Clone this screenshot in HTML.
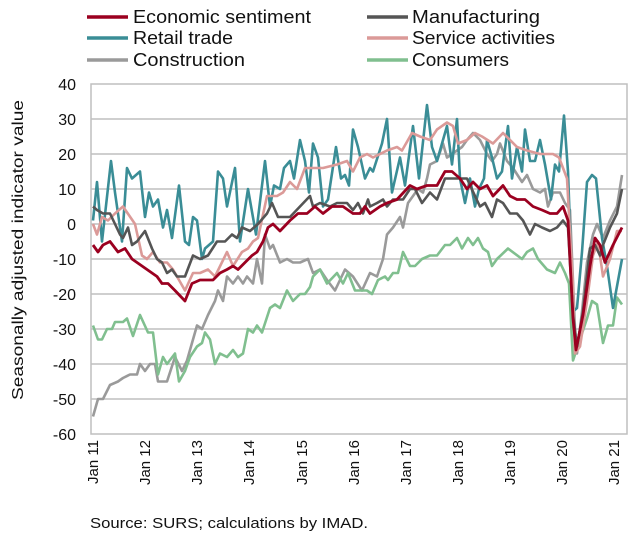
<!DOCTYPE html>
<html><head><meta charset="utf-8"><style>
html,body{margin:0;padding:0;background:#fff;}
svg{display:block;font-family:"Liberation Sans",sans-serif;}
</style></head><body>
<svg id="s" width="639" height="542" viewBox="0 0 639 542" xmlns="http://www.w3.org/2000/svg">
<g stroke="#bfbfbf" stroke-width="1.5">
<line x1="91" y1="119" x2="627" y2="119"/><line x1="91" y1="154" x2="627" y2="154"/>
<line x1="91" y1="189" x2="627" y2="189"/><line x1="91" y1="224" x2="627" y2="224"/>
<line x1="91" y1="259" x2="627" y2="259"/><line x1="91" y1="294" x2="627" y2="294"/>
<line x1="91" y1="329" x2="627" y2="329"/><line x1="91" y1="364" x2="627" y2="364"/>
<line x1="91" y1="399" x2="627" y2="399"/>
</g>
<rect x="91" y="84" width="536" height="350" fill="none" stroke="#bfbfbf" stroke-width="1.5"/>
<g font-size="16" text-anchor="end" fill="#111">
<text x="76" y="90">40</text><text x="76" y="125">30</text><text x="76" y="160">20</text>
<text x="76" y="195">10</text><text x="76" y="230">0</text><text x="76" y="265">-10</text>
<text x="76" y="300">-20</text><text x="76" y="335">-30</text><text x="76" y="370">-40</text>
<text x="76" y="405">-50</text><text x="76" y="440">-60</text>
</g>
<text transform="translate(23,250) rotate(-90)" font-size="16" text-anchor="middle" textLength="300" lengthAdjust="spacingAndGlyphs" fill="#111">Seasonally adjusted indicator value</text>
<g font-size="15" text-anchor="end" fill="#111">
<text transform="translate(98,440) rotate(-90)">Jan 11</text>
<text transform="translate(150,440) rotate(-90)">Jan 12</text>
<text transform="translate(202,440) rotate(-90)">Jan 13</text>
<text transform="translate(254,440) rotate(-90)">Jan 14</text>
<text transform="translate(307,440) rotate(-90)">Jan 15</text>
<text transform="translate(359,440) rotate(-90)">Jan 16</text>
<text transform="translate(411,440) rotate(-90)">Jan 17</text>
<text transform="translate(463,440) rotate(-90)">Jan 18</text>
<text transform="translate(515,440) rotate(-90)">Jan 19</text>
<text transform="translate(567,440) rotate(-90)">Jan 20</text>
<text transform="translate(619,440) rotate(-90)">Jan 21</text>
</g>
<text x="90" y="528" font-size="15" fill="#111" textLength="278" lengthAdjust="spacingAndGlyphs">Source: SURS; calculations by IMAD.</text>
<g stroke-width="3.5">
<line x1="87" y1="17" x2="128" y2="17" stroke="#9b0020"/>
<line x1="367" y1="17" x2="408" y2="17" stroke="#555"/>
<line x1="87" y1="38" x2="128" y2="38" stroke="#3a8d96"/>
<line x1="367" y1="38" x2="408" y2="38" stroke="#db9a98"/>
<line x1="87" y1="60" x2="128" y2="60" stroke="#9a9a9a"/>
<line x1="367" y1="60" x2="408" y2="60" stroke="#80bf8f"/>
</g>
<g font-size="18" fill="#111" lengthAdjust="spacingAndGlyphs">
<text x="133" y="23" textLength="178" lengthAdjust="spacingAndGlyphs">Economic sentiment</text>
<text x="412" y="23" textLength="128" lengthAdjust="spacingAndGlyphs">Manufacturing</text>
<text x="133" y="44" textLength="100" lengthAdjust="spacingAndGlyphs">Retail trade</text>
<text x="412" y="44" textLength="143" lengthAdjust="spacingAndGlyphs">Service activities</text>
<text x="133" y="66" textLength="112" lengthAdjust="spacingAndGlyphs">Construction</text>
<text x="412" y="66" textLength="97" lengthAdjust="spacingAndGlyphs">Consumers</text>
</g>
<g id="lines" fill="none" stroke-width="2.6" stroke-linejoin="round"></g>
</svg>
<script>
var D={
con:["#9a9a9a",[93,-55,98,-50,103,-50,110,-46,118,-45,123,-44,130,-43,137,-43,140,-40,145,-42,150,-40,155,-40,158,-45,167,-45,175,-38,182,-42,187,-39,197,-29,202,-30,208,-26,215,-22,218,-19,223,-22,227,-15,233,-17,238,-15,243,-17,247,-15,253,-17,257,-10,262,-17,265,-3,270,-7,273,-6,280,-11,287,-10,293,-11,300,-11,308,-10,313,-14,320,-13,327,-16,335,-19,345,-13,353,-15,362,-19,370,-14,377,-15,383,-10,387,-3,393,-1,400,2,403,-1,408,6,413,8,418,10,423,9,427,13,430,17,437,18,443,23,447,19,452,20,457,21,462,22,467,24,473,26,480,24,487,20,492,18,497,20,500,23,507,18,513,16,522,12,527,14,533,10,540,9,545,10,548,5,553,9,560,9,565,6,570,4,575,-30,577,-37,582,-25,587,-11,593,-3,597,0,603,-4,610,1,617,5,622,14]],
cons:["#80bf8f",[93,-29,98,-33,102,-33,107,-30,112,-30,115,-28,123,-28,127,-27,133,-32,140,-26,148,-31,153,-31,158,-43,163,-38,167,-40,175,-37,179,-45,185,-42,190,-38,197,-35,202,-34,205,-31,210,-33,215,-40,220,-37,227,-38,233,-36,238,-38,243,-37,248,-30,253,-31,257,-29,262,-31,270,-24,275,-23,280,-24,287,-19,293,-22,300,-20,305,-20,310,-18,313,-15,320,-13,327,-17,337,-14,343,-17,348,-14,355,-19,363,-19,367,-19,372,-20,378,-16,385,-15,388,-16,393,-14,398,-14,403,-8,410,-12,415,-12,422,-10,430,-9,437,-9,445,-6,450,-6,457,-4,462,-7,468,-4,473,-6,478,-4,483,-7,488,-8,492,-12,497,-10,508,-7,522,-10,527,-8,533,-7,538,-10,547,-13,555,-14,560,-11,565,-14,569,-17,573,-39,580,-33,587,-27,592,-22,597,-23,603,-34,608,-29,613,-29,617,-21,622,-23]],
ret:["#3a8d96",[93,1,97,12,102,-5,111,18,115,9,122,-5,127,16,132,13,140,15,145,2,149,9,153,5,158,7,163,-1,167,4,172,-4,179,11,185,-5,189,-6,193,2,197,1,202,-10,205,-7,213,-5,218,15,223,13,227,5,235,16,240,-5,248,10,256,-3,265,18,270,5,274,11,280,10,284,16,290,18,294,13,300,24,305,18,309,9,313,23,318,19,323,5,328,7,336,22,341,13,345,14,349,11,353,27,358,22,365,13,370,16,373,15,382,23,387,30,392,9,400,19,405,11,413,28,419,13,427,34,432,22,437,18,447,28,452,17,457,30,460,13,465,6,470,13,475,5,479,10,484,13,487,24,492,19,497,13,502,15,508,28,512,13,517,22,522,15,525,27,530,18,535,18,540,24,545,17,551,7,555,17,559,15,564,31,568,15,573,-25,577,-24,582,-8,587,12,592,14,596,13,602,-4,607,-12,613,-24,622,-10]],
ser:["#db9a98",[93,0,97,-3,102,2,108,1,115,3,123,5,135,0,142,-9,147,-10,153,-8,160,-11,167,-11,173,-13,185,-19,193,-14,200,-14,208,-13,215,-15,227,-8,233,-12,242,-8,248,-7,253,-5,258,-4,267,8,277,8,283,9,290,12,297,10,305,16,323,16,337,17,347,18,353,15,360,19,367,20,373,19,387,21,397,22,402,21,412,26,420,25,430,24,437,27,447,29,453,28,458,23,467,24,475,26,482,25,493,23,503,26,517,22,527,21,540,20,553,20,559,19,567,13,573,-18,575,-37,580,-35,587,-22,593,-9,598,-5,603,-15,610,-10,617,-2,622,-2]],
man:["#555555",[93,5,97,4,103,3,110,3,115,0,120,-3,123,-4,128,-1,132,-6,137,-5,145,-2,152,-7,157,-10,162,-11,167,-14,172,-13,177,-15,185,-15,193,-9,200,-10,208,-9,217,-5,225,-5,232,-3,237,-4,242,-1,250,-2,258,0,267,3,272,6,278,2,290,2,300,5,310,8,313,5,320,6,330,5,337,6,347,6,353,4,358,6,363,3,368,7,370,5,377,6,383,7,387,5,393,7,403,7,410,10,415,10,422,6,430,9,437,7,445,13,455,13,467,13,475,8,480,5,485,6,492,2,497,7,503,6,510,3,517,3,523,1,530,-3,535,0,542,-1,550,-2,557,-1,563,1,568,-1,573,-26,577,-35,583,-25,590,-7,595,-6,600,-9,603,-6,610,-1,617,3,622,10]],
eco:["#9b0020",[93,-6,98,-8,103,-6,110,-5,118,-8,125,-7,132,-10,137,-11,147,-13,157,-15,162,-17,168,-17,175,-19,185,-22,192,-17,200,-16,213,-16,220,-14,227,-13,233,-12,238,-13,245,-11,252,-9,257,-8,263,-5,268,-1,273,0,280,-2,290,1,298,3,307,3,315,5,323,3,332,5,343,5,353,3,360,3,365,5,370,3,380,5,387,6,397,7,410,11,417,10,427,11,437,11,445,15,452,15,460,13,467,10,473,12,480,10,487,11,493,8,503,11,510,8,517,7,525,7,533,5,542,4,550,3,557,3,563,5,568,1,573,-27,576,-36,583,-26,590,-12,595,-4,600,-6,605,-11,613,-6,622,-1]]
};
var g=document.getElementById("lines"),ns="http://www.w3.org/2000/svg";
["con","cons","ret","ser","man","eco"].forEach(function(k){
 var c=D[k][0],a=D[k][1],p=[];
 for(var i=0;i<a.length;i+=2)p.push(a[i]+","+(224-a[i+1]*3.5).toFixed(1));
 var pl=document.createElementNS(ns,"polyline");
 pl.setAttribute("points",p.join(" "));pl.setAttribute("stroke",c);
 if(k=="eco")pl.setAttribute("stroke-width","2.8");
 g.appendChild(pl);
});
</script>
</body></html>
